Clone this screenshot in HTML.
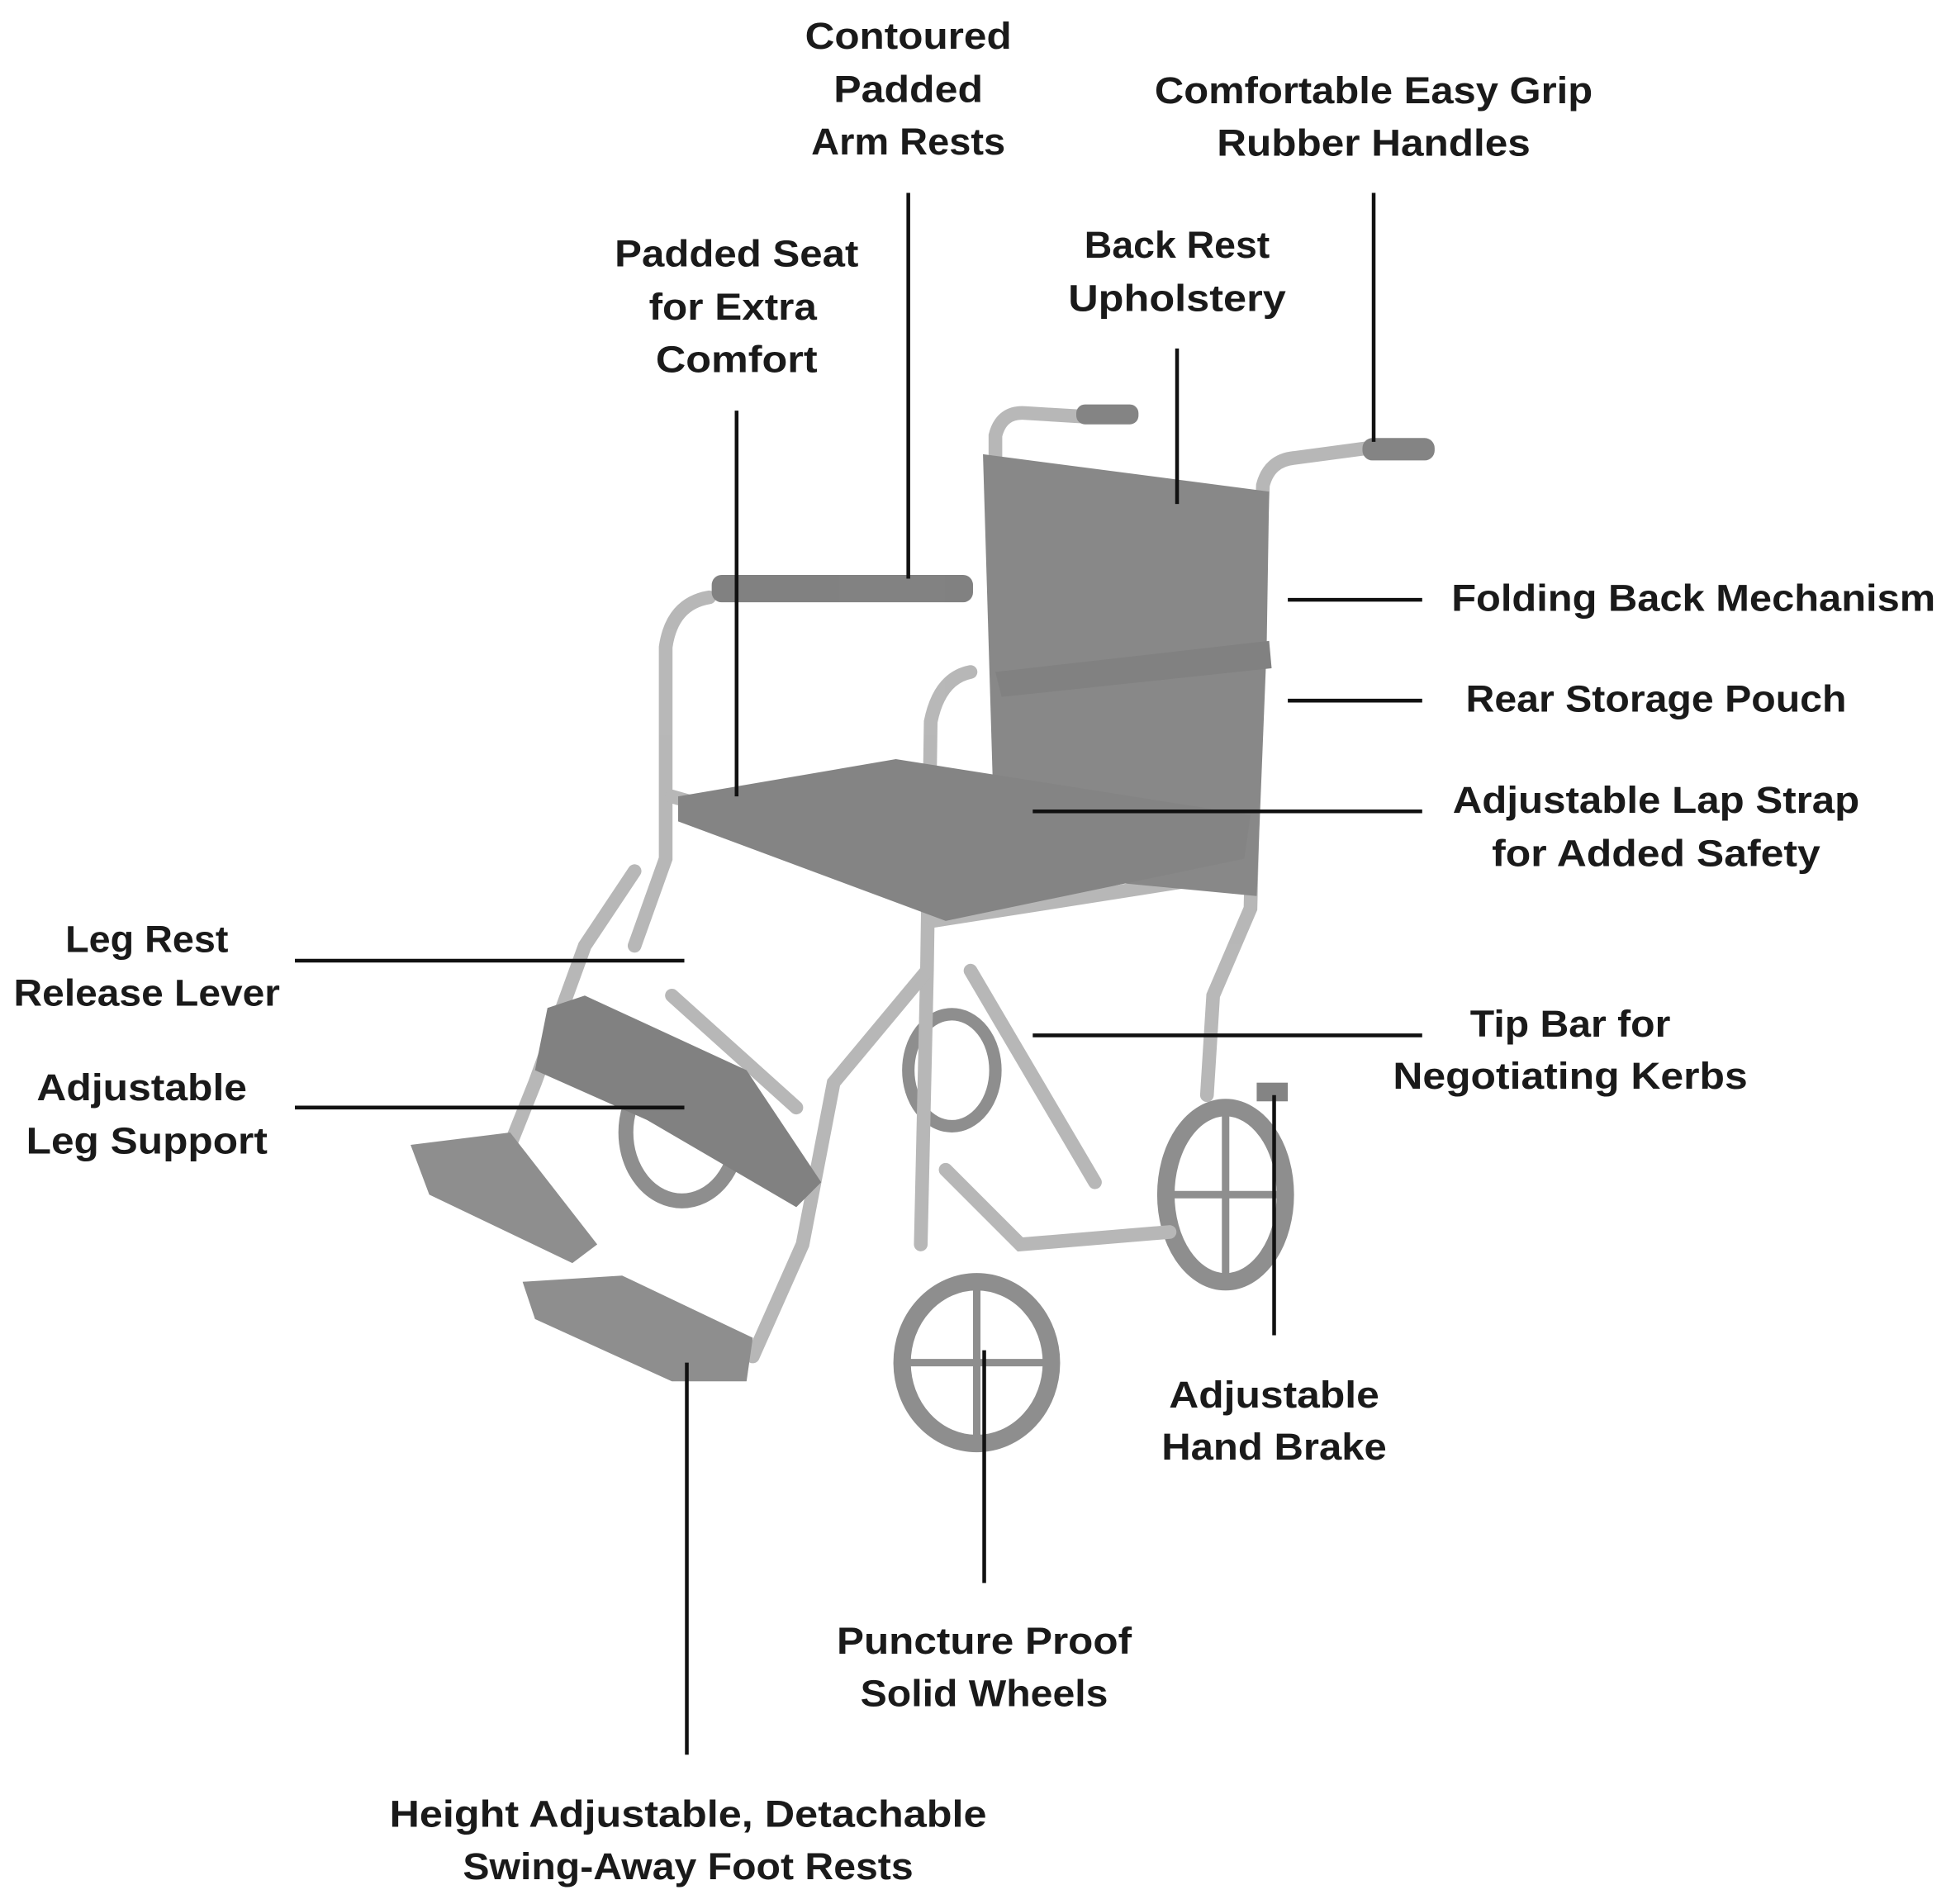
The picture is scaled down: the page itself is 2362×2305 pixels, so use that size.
<!DOCTYPE html>
<html><head><meta charset="utf-8"><style>
html,body{margin:0;padding:0;background:#fff;}
svg{display:block;}
text{font-family:"Liberation Sans",sans-serif;font-weight:bold;font-size:30px;fill:#1a1a1a;text-anchor:middle;}
</style></head><body>
<svg width="2362" height="2305" viewBox="0 0 1568 1530" preserveAspectRatio="none" xmlns="http://www.w3.org/2000/svg">
<rect width="1568" height="1530" fill="#fff"/>
<g opacity="0.6">
 <g fill="none" stroke="#444">
  <ellipse cx="985" cy="960" rx="48" ry="70" stroke-width="14"/>
  <ellipse cx="785" cy="1095" rx="60" ry="65" stroke-width="14"/>
  <ellipse cx="548" cy="910" rx="45" ry="55" stroke-width="12"/>
  <ellipse cx="765" cy="860" rx="35" ry="45" stroke-width="10"/>
 </g>
 <g stroke="#444" stroke-width="6">
  <line x1="985" y1="895" x2="985" y2="1025"/><line x1="940" y1="960" x2="1030" y2="960"/>
  <line x1="785" y1="1035" x2="785" y2="1155"/><line x1="730" y1="1095" x2="840" y2="1095"/>
 </g>
 <g fill="none" stroke="#888" stroke-width="11" stroke-linecap="round">
  <path d="M800 470 L800 350 Q805 330 825 332 L875 335"/>
  <path d="M1010 520 L1015 390 Q1020 370 1040 368 L1100 360"/>
  <path d="M570 480 Q540 485 535 520 L535 690 L510 760"/>
  <path d="M780 540 Q755 545 748 580 L745 780 L740 1000"/>
  <path d="M1010 520 L1005 730 L975 800 L970 880"/>
  <path d="M540 640 L750 700 L1005 680"/>
  <path d="M750 740 L1005 700"/>
  <path d="M745 780 L670 870 L645 1000 L605 1090"/>
  <path d="M510 700 L470 760 L430 870 L410 920"/>
  <path d="M760 940 L820 1000 L940 990"/>
  <path d="M780 780 L880 950"/>
  <path d="M540 800 L640 890"/>
 </g>
 <path d="M790 365 L1020 395 L1018 520 L1010 720 L800 700 Z" fill="#3a3a3a"/>
 <path d="M545 640 L720 610 L1005 655 L1000 690 L760 740 L545 660 Z" fill="#333"/>
 <rect x="572" y="462" width="210" height="22" rx="8" fill="#2e2e2e"/>
 <path d="M800 540 L1020 515 L1022 537 L805 560 Z" fill="#2e2e2e"/>
 <rect x="865" y="325" width="50" height="16" rx="7" fill="#333"/>
 <rect x="1095" y="352" width="58" height="18" rx="8" fill="#333"/>
 <path d="M440 810 L470 800 L600 860 L660 950 L640 970 L520 900 L430 860 Z" fill="#2e2e2e"/>
 <path d="M330 920 L410 910 L480 1000 L460 1015 L345 960 Z" fill="#444"/>
 <path d="M420 1030 L500 1025 L605 1075 L600 1110 L540 1110 L430 1060 Z" fill="#444"/>
 <rect x="1010" y="870" width="25" height="15" fill="#333"/>
</g>
<g stroke="#111" stroke-width="3" fill="none">
 <line x1="730" y1="155" x2="730" y2="465"/>
 <line x1="1104" y1="155" x2="1104" y2="355"/>
 <line x1="592" y1="330" x2="592" y2="640"/>
 <line x1="946" y1="280" x2="946" y2="405"/>
 <line x1="1035" y1="482" x2="1143" y2="482"/>
 <line x1="1035" y1="563" x2="1143" y2="563"/>
 <line x1="830" y1="652" x2="1143" y2="652"/>
 <line x1="237" y1="772" x2="550" y2="772"/>
 <line x1="237" y1="890" x2="550" y2="890"/>
 <line x1="830" y1="832" x2="1143" y2="832"/>
 <line x1="1024" y1="880" x2="1024" y2="1073"/>
 <line x1="791" y1="1085" x2="791" y2="1272"/>
 <line x1="552" y1="1095" x2="552" y2="1410"/>
</g>
<text x="730" y="39" textLength="166" lengthAdjust="spacingAndGlyphs">Contoured</text>
<text x="730" y="82" textLength="120" lengthAdjust="spacingAndGlyphs">Padded</text>
<text x="730" y="124" textLength="156" lengthAdjust="spacingAndGlyphs">Arm Rests</text>
<text x="1104" y="83" textLength="352" lengthAdjust="spacingAndGlyphs">Comfortable Easy Grip</text>
<text x="1104" y="125" textLength="252" lengthAdjust="spacingAndGlyphs">Rubber Handles</text>
<text x="592" y="214" textLength="196" lengthAdjust="spacingAndGlyphs">Padded Seat</text>
<text x="589" y="257" textLength="135" lengthAdjust="spacingAndGlyphs">for Extra</text>
<text x="592" y="299" textLength="130" lengthAdjust="spacingAndGlyphs">Comfort</text>
<text x="946" y="207" textLength="149" lengthAdjust="spacingAndGlyphs">Back Rest</text>
<text x="946" y="250" textLength="175" lengthAdjust="spacingAndGlyphs">Upholstery</text>
<text x="1361" y="491" textLength="389" lengthAdjust="spacingAndGlyphs">Folding Back Mechanism</text>
<text x="1331" y="572" textLength="306" lengthAdjust="spacingAndGlyphs">Rear Storage Pouch</text>
<text x="1331" y="653" textLength="327" lengthAdjust="spacingAndGlyphs">Adjustable Lap Strap</text>
<text x="1331" y="696" textLength="264" lengthAdjust="spacingAndGlyphs">for Added Safety</text>
<text x="118" y="765" textLength="131" lengthAdjust="spacingAndGlyphs">Leg Rest</text>
<text x="118" y="808" textLength="214" lengthAdjust="spacingAndGlyphs">Release Lever</text>
<text x="114" y="884" textLength="169" lengthAdjust="spacingAndGlyphs">Adjustable</text>
<text x="118" y="927" textLength="194" lengthAdjust="spacingAndGlyphs">Leg Support</text>
<text x="1262" y="833" textLength="161" lengthAdjust="spacingAndGlyphs">Tip Bar for</text>
<text x="1262" y="875" textLength="285" lengthAdjust="spacingAndGlyphs">Negotiating Kerbs</text>
<text x="1024" y="1131" textLength="169" lengthAdjust="spacingAndGlyphs">Adjustable</text>
<text x="1024" y="1173" textLength="181" lengthAdjust="spacingAndGlyphs">Hand Brake</text>
<text x="791" y="1329" textLength="237" lengthAdjust="spacingAndGlyphs">Puncture Proof</text>
<text x="791" y="1371" textLength="199" lengthAdjust="spacingAndGlyphs">Solid Wheels</text>
<text x="553" y="1468" textLength="480" lengthAdjust="spacingAndGlyphs">Height Adjustable, Detachable</text>
<text x="553" y="1510" textLength="362" lengthAdjust="spacingAndGlyphs">Swing-Away Foot Rests</text>
</svg>
</body></html>
